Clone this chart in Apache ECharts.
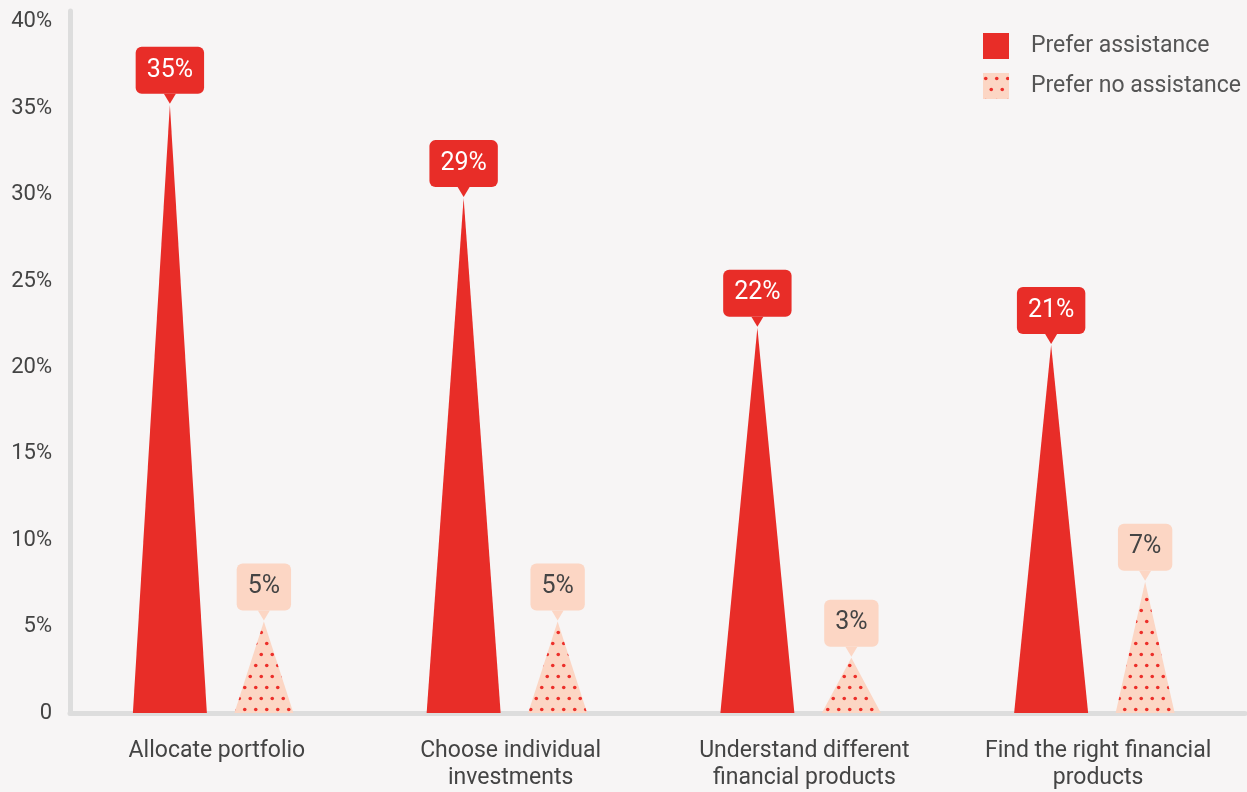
<!DOCTYPE html>
<html>
<head>
<meta charset="utf-8">
<script src="https://cdn.jsdelivr.net/npm/echarts@6/dist/echarts.min.js"></script>
<style>
html,body{margin:0;padding:0;background:#f7f5f5;}
#chart{width:1247px;height:792px;}
</style>
</head>
<body>
<div id="chart"></div>
<script>
const categories = ['Allocate portfolio', 'Choose individual\ninvestments', 'Understand different\nfinancial products', 'Find the right financial\nproducts'];
const seriesNames = ['Prefer assistance', 'Prefer no assistance'];
const assistance = [35.2, 29.8, 22.3, 21.3];
const noAssistance = [5.3, 5.3, 3.2, 7.6];
const yTicks = [0, 5, 10, 15, 20, 25, 30, 35, 40];

const RED = '#e82d28';
const PEACH = '#fcd6c4';
const TEXT = '#444444';
const FONT = 'Roboto';

function makePattern() {
  const c = document.createElement('canvas');
  c.width = 11; c.height = 22;
  const ctx = c.getContext('2d');
  ctx.fillStyle = PEACH;
  ctx.fillRect(0, 0, 11, 22);
  ctx.fillStyle = '#ec2f2a';
  [[2.75, 5.5], [8.25, 16.5]].forEach(p => {
    ctx.beginPath(); ctx.arc(p[0], p[1], 1.8, 0, Math.PI * 2); ctx.fill();
  });
  return c;
}
const pattern = { image: makePattern(), repeat: 'repeat' };

function makeRender(width, fill, boxBg, txtColor, dx) {
  return function (params, api) {
    const idx = api.value(0), v = api.value(1);
    const top = api.coord([idx, v]);
    const base = api.coord([idx, 0]);
    const cx = top[0] + dx;
    const ty = top[1];
    return {
      type: 'group',
      children: [
        { type: 'polygon', shape: { points: [[cx - width / 2, base[1]], [cx + width / 2, base[1]], [cx, ty]] }, style: { fill: fill } },
        { type: 'polygon', shape: { points: [[cx - 6, ty - 11], [cx + 6, ty - 11], [cx, ty - 1]] }, style: { fill: boxBg } },
        {
          type: 'text', x: cx, y: ty - 11, z2: 10,
          style: {
            text: Math.floor(v) + '%', fill: txtColor, fontFamily: FONT, fontSize: 25, lineHeight: 27,
            align: 'center', verticalAlign: 'bottom',
            backgroundColor: boxBg, padding: [10, 11, 10, 11], borderRadius: 6
          }
        }
      ]
    };
  };
}

const chart = echarts.init(document.getElementById('chart'));

chart.setOption({
  backgroundColor: '#f7f5f5',
  animation: false,
  textStyle: { fontFamily: FONT },
  grid: { left: 70, right: 2, top: 11, bottom: 75, containLabel: false },
  legend: {
    data: [
      { name: seriesNames[0], itemStyle: { color: RED } },
      { name: seriesNames[1], itemStyle: { color: pattern } }
    ],
    orient: 'vertical', left: 983, top: 33, padding: 0,
    icon: 'rect', itemWidth: 26, itemHeight: 26, itemGap: 14,
    textStyle: { fontFamily: FONT, fontSize: 23, color: '#555', padding: [0, 0, 0, 17] }
  },
  xAxis: {
    type: 'category', data: categories,
    axisLine: { lineStyle: { color: '#dddddd', width: 5 } },
    axisTick: { show: false },
    axisLabel: { color: TEXT, fontFamily: FONT, fontSize: 23, lineHeight: 27, margin: 25, interval: 0 }
  },
  yAxis: {
    type: 'value', min: 0, max: 40.63, interval: 5,
    axisLine: { show: true, lineStyle: { color: '#dddddd', width: 5 } },
    axisTick: { show: false },
    splitLine: { show: false },
    axisLabel: {
      color: TEXT, fontFamily: FONT, fontSize: 22, margin: 18,
      formatter: v => yTicks.indexOf(v) < 0 ? '' : (v === 0 ? '0' : v + '%')
    }
  },
  series: [
    {
      name: seriesNames[0], type: 'custom',
      data: assistance.map((v, i) => [i, v]), encode: { x: 0, y: 1 },
      itemStyle: { color: RED },
      renderItem: makeRender(74, RED, RED, '#ffffff', -47)
    },
    {
      name: seriesNames[1], type: 'custom',
      data: noAssistance.map((v, i) => [i, v]), encode: { x: 0, y: 1 },
      itemStyle: { color: PEACH },
      renderItem: makeRender(59, pattern, PEACH, TEXT, 47)
    }
  ]
});
</script>
</body>
</html>
